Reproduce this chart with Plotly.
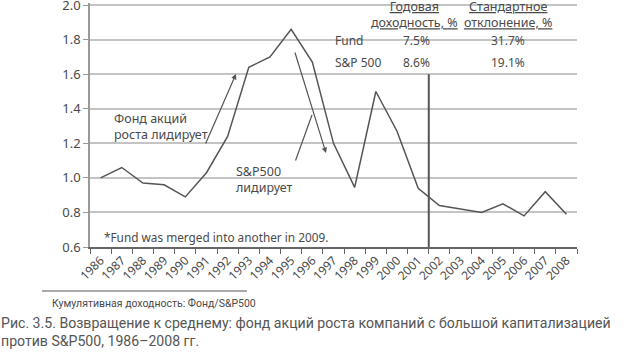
import plotly.graph_objects as go

years = [str(y) for y in range(1986, 2009)]
ratio = [1.00, 1.06, 0.97, 0.96, 0.89, 1.03, 1.24, 1.64, 1.70, 1.86, 1.67, 1.20,
         0.945, 1.50, 1.27, 0.94, 0.84, 0.82, 0.80, 0.85, 0.78, 0.92, 0.79]
y_ticks = [0.6, 0.8, 1.0, 1.2, 1.4, 1.6, 1.8, 2.0]
table_rows = ["Fund", "S&P 500"]
annual_return = ["7.5%", "8.6%"]
std_dev = ["31.7%", "19.1%"]

FONT = "Noto Sans"
FS = 12.5
TXT = "#4a4a4a"
LINE = "#555555"
GRID = "#c4c4c4"

# plot area in pixels: x 90..577, y 3..247 (y range slightly above 2.0 so its gridline shows)
PL, PR, PT, PB = 90, 577, 3, 247
def px(x):
    return (x - PL) / (PR - PL)
def py(y):
    return (PB - y) / (PB - PT)

fig = go.Figure()
fig.add_trace(go.Scatter(x=years, y=ratio, mode="lines",
                         line=dict(color=LINE, width=1.5), hoverinfo="skip"))

f = dict(family=FONT, size=FS, color=TXT)
fl = dict(family=FONT, size=12, color=TXT)
ann = []
ann.append(dict(x=px(414.5), y=py(14.5), xref="paper", yref="paper", xanchor="center", yanchor="middle",
                text="<u>Годовая</u><br><u>доходность, %</u>", showarrow=False,
                font=f, align="center"))
ann.append(dict(x=px(507.5), y=py(14.5), xref="paper", yref="paper", xanchor="center", yanchor="middle",
                text="<u>Стандартное</u><br><u>отклонение, %</u>", showarrow=False,
                font=f, align="center"))
row_py = [40.7, 62.7]
for r, ar, sd, yy in zip(table_rows, annual_return, std_dev, row_py):
    ann.append(dict(x=px(333), y=py(yy), xref="paper", yref="paper", xanchor="left", yanchor="middle",
                    text=r, showarrow=False, font=fl))
    ann.append(dict(x=px(416.5), y=py(yy), xref="paper", yref="paper", xanchor="center", yanchor="middle",
                    text=ar, showarrow=False, font=fl))
    ann.append(dict(x=px(507.5), y=py(yy), xref="paper", yref="paper", xanchor="center", yanchor="middle",
                    text=sd, showarrow=False, font=fl))

ann.append(dict(x=px(112), y=py(126.7), xref="paper", yref="paper", xanchor="left", yanchor="middle",
                text="Фонд акций<br>роста лидирует", showarrow=False, align="left", font=f))
ann.append(dict(x=px(234), y=py(179), xref="paper", yref="paper", xanchor="left", yanchor="middle",
                text="S&P500<br>лидирует", showarrow=False, align="left", font=f))
ann.append(dict(x=px(102), y=py(237), xref="paper", yref="paper", xanchor="left", yanchor="middle",
                text="*Fund was merged into another in 2009.", showarrow=False,
                font=dict(family=FONT, size=11.8, color=TXT)))

# arrows (pixel positions converted to axis-domain fractions)
def arrow(x0, y0, x1, y1, head):
    return dict(x=px(x1), y=py(y1), ax=px(x0), ay=py(y0), xref="x domain", yref="y domain",
                axref="x domain", ayref="y domain", text="", showarrow=True, arrowhead=head,
                arrowsize=0.9, arrowwidth=1.2, arrowcolor=LINE)
ann.append(arrow(205, 145, 236, 74, 2))
ann.append(arrow(294.5, 51, 326, 153, 2))
ann.append(arrow(295, 162, 312, 115, 0))

# captions
ann.append(dict(x=px(50), y=py(303), xref="paper", yref="paper", xanchor="left",
                yanchor="middle", text="Кумулятивная доходность: Фонд/S&P500", showarrow=False,
                font=dict(family="Roboto", size=10.5, color=TXT)))
ann.append(dict(x=px(-1), y=py(332), xref="paper", yref="paper", xanchor="left",
                yanchor="middle", align="left",
                text="Рис. 3.5. Возвращение к среднему: фонд акций роста компаний с большой капитализацией<br>против S&P500, 1986–2008 гг.",
                showarrow=False, font=dict(family="Roboto", size=14.1, color="#555555")))

top = y_ticks[-1]
shapes = [
    # top gridline (Plotly skips grid lines this close to the edge); broken by the table
    dict(type="line", xref="paper", yref="y", x0=0, x1=px(327), y0=top, y1=top,
         line=dict(color=GRID, width=1.5), layer="above"),
    dict(type="line", xref="paper", yref="y", x0=px(553), x1=1, y0=top, y1=top,
         line=dict(color=GRID, width=1.5), layer="above"),
    dict(type="rect", xref="paper", yref="paper", x0=px(327), x1=px(553), y0=py(70), y1=py(-5),
         fillcolor="white", line=dict(width=0), layer="between"),
    dict(type="rect", xref="paper", yref="paper", x0=px(232), x1=px(314), y0=py(192), y1=py(165),
         fillcolor="white", line=dict(width=0), layer="between"),
    dict(type="line", xref="x", yref="y", x0=15.5, x1=15.5, y0=0.6, y1=1.6,
         line=dict(color=LINE, width=2), layer="above"),
    dict(type="line", xref="paper", yref="paper", x0=px(42), x1=px(247), y0=py(291), y1=py(291),
         line=dict(color="#aaaaaa", width=2)),
]

fig.update_layout(
    width=624, height=354,
    margin=dict(l=PL, r=624 - PR, t=PT, b=354 - PB),
    paper_bgcolor="white", plot_bgcolor="white",
    showlegend=False,
    annotations=ann,
    shapes=shapes,
)

fig.update_xaxes(type="category", range=[-0.5, 22.5], showgrid=False, automargin=False,
                 showline=True, linecolor="#666666", linewidth=1.5,
                 ticks="outside", tickson="boundaries", ticklen=5, tickcolor="#666666",
                 tickangle=-45, tickfont=dict(family=FONT, size=12, color=TXT))
fig.update_yaxes(range=[0.6, 2.012], tickvals=y_ticks, ticktext=[f"{v:.1f}" for v in y_ticks],
                 showgrid=True, gridcolor=GRID, gridwidth=1.5, automargin=False,
                 showline=True, linecolor="#999999", linewidth=1.5,
                 ticks="outside", ticklen=5, tickcolor="#999999", ticklabeloverflow="allow",
                 tickfont=dict(family=FONT, size=13, color=TXT), zeroline=False)

fig.write_html("out.html")
